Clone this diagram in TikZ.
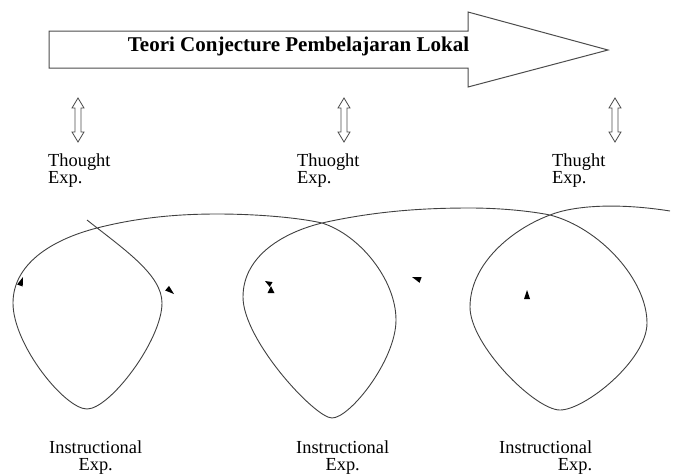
\documentclass[tikz,border=0pt]{standalone}
\usepackage{fontspec}
\setmainfont{Liberation Serif}

\tikzset{
  updown/.style={draw=black!70, line width=0.8pt},
  lbl/.style={inner sep=0pt, font=\fontsize{18.4}{17}\selectfont}
}

\begin{document}
\begin{tikzpicture}[x=1pt,y=-1pt]
\useasboundingbox (0,0) rectangle (693,475);

% big arrow
\draw[black!70, line width=1pt] (49,31) -- (468,31) -- (468,12) -- (608,50)
  -- (468,87) -- (468,68) -- (49,68) -- cycle;
\node[inner sep=0pt, anchor=base, font=\fontsize{21}{24}\selectfont\bfseries] (title) at (298.5,51) {Teori Conjecture Pembelajaran Lokal};

% thought experiments
\node[lbl, align=left, anchor=north west] (th1) at (48,154) {Thought\\Exp.};
\node[lbl, align=left, anchor=north west] (th2) at (297,154) {Thuoght\\Exp.};
\node[lbl, align=left, anchor=north west] (th3) at (552,154) {Thught\\Exp.};

\coordinate (u1) at (78,98);  \coordinate (d1) at (78,142);
\coordinate (u2) at (344,98); \coordinate (d2) at (344,142);
\coordinate (u3) at (615,98); \coordinate (d3) at (615,142);
\foreach \i in {1,2,3}
  \draw[updown] (u\i) -- ++(6,10) -- ++(-3,0) -- ++(0,24) -- ++(3,0) -- (d\i)
    -- ++(-6,-10) -- ++(3,0) -- ++(0,-24) -- ++(-3,0) -- cycle;

% cycles
\draw[black!75, line width=0.9pt]
  (87,220) .. controls (125,250) and (162,275) .. (162,303)
  .. controls (162,340) and (110,409) .. (87,409)
  .. controls (65,409) and (13,345) .. (13,303)
  .. controls (13,265) and (50,240) .. (97,228)
  .. controls (140,217) and (180,214) .. (217,214)
  .. controls (260,214) and (300,218) .. (322,223)
  .. controls (360,235) and (396,280) .. (396,320)
  .. controls (396,360) and (350,418) .. (332,418)
  .. controls (315,418) and (243,340) .. (243,297)
  .. controls (243,255) and (285,232) .. (322,223)
  .. controls (380,210) and (430,208) .. (470,208)
  .. controls (500,208) and (530,211) .. (550,215)
  .. controls (600,228) and (647,280) .. (647,323)
  .. controls (647,360) and (585,410) .. (560,410)
  .. controls (535,410) and (470,345) .. (470,307)
  .. controls (470,265) and (510,230) .. (550,215)
  .. controls (575,205) and (620,203) .. (670,211);

% stray arrow heads
\fill (23,277) -- (22.7,286.5) -- (17.1,284.5) -- cycle;
\fill (174,294) -- (165.2,290.5) -- (169,285.9) -- cycle;
\fill (265,281) -- (272.5,282.1) -- (269.7,286.9) -- cycle;
\fill (271,286) -- (267.5,293) -- (274.5,293) -- cycle;
\fill (412,277) -- (421.6,277) -- (419.6,282.8) -- cycle;
\fill (527,290) -- (524,299) -- (530,299) -- cycle;

% instructional experiments
\node[lbl, align=center, anchor=north west] (ins1) at (49,441) {Instructional\\Exp.};
\node[lbl, align=center, anchor=north west] (ins2) at (296,441) {Instructional\\Exp.};
\node[lbl, align=right, anchor=north west] (ins3) at (499,441) {Instructional\\Exp.};

\end{tikzpicture}
\end{document}
